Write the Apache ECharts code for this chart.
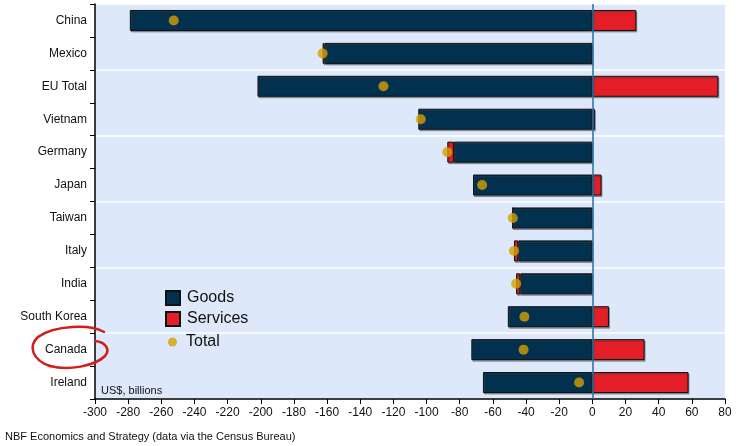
<!DOCTYPE html>
<html>
<head>
<meta charset="utf-8">
<script src="https://cdn.jsdelivr.net/npm/echarts@6/dist/echarts.min.js"></script>
<style>
  html, body { margin: 0; padding: 0; background: #ffffff; }
  #chart { width: 742px; height: 446px; }
</style>
</head>
<body>
<div id="chart"></div>
<script>
// US trade balance by partner, US$ billions
const countries = ['China', 'Mexico', 'EU Total', 'Vietnam', 'Germany', 'Japan',
                   'Taiwan', 'Italy', 'India', 'South Korea', 'Canada', 'Ireland'];
const goods    = [-279, -161.5, -202, -105, -83.5, -72, -48, -44.7, -43.5, -51, -73, -66];
const services = [26.5, -1.2, 76, 1.5, -4, 5.5, 0, -2.6, -2.5, 10, 31.5, 58];
const totals   = [-252.5, -162.7, -126, -103.5, -87.5, -66.5, -48, -47.3, -46, -41, -41.5, -8];
const xTicks   = { min: -300, max: 80, step: 20 };

const FONT = '"Liberation Sans", Arial, sans-serif';
const barStyle = (color) => ({
  color: color,
  borderColor: '#111111',
  borderWidth: 1,
  shadowColor: 'rgba(60,60,60,0.45)',
  shadowOffsetX: 1,
  shadowOffsetY: 1.5,
  shadowBlur: 0
});

// hand-drawn loop around the Canada label, as cubic segments
const loopSegments = [
  [104, 332, 90, 324, 55, 325, 38, 337],
  [38, 337, 28, 346, 32, 360, 50, 366],
  [50, 366, 68, 371, 95, 366, 105, 356],
  [105, 356, 111, 349, 105, 342, 95, 341]
];
const loopGraphics = loopSegments.map(s => ({
  type: 'bezierCurve', z: 100,
  shape: { x1: s[0], y1: s[1], cpx1: s[2], cpy1: s[3], cpx2: s[4], cpy2: s[5], x2: s[6], y2: s[7] },
  style: { fill: null, stroke: '#d21d1d', lineWidth: 2.5, lineCap: 'round' }
}));

const chart = echarts.init(document.getElementById('chart'), null, { renderer: 'canvas' });

chart.setOption({
  animation: false,
  textStyle: { fontFamily: FONT },
  grid: {
    left: 95, right: 17, top: 4, bottom: 47,
    show: true, backgroundColor: '#dde8fa', borderWidth: 0
  },
  xAxis: {
    type: 'value',
    min: xTicks.min, max: xTicks.max, interval: xTicks.step,
    axisLine: { show: true, onZero: false, lineStyle: { color: '#000', width: 1.5 } },
    axisTick: { show: true, length: 5, lineStyle: { color: '#000', width: 1 } },
    axisLabel: { color: '#111', fontSize: 12, margin: 8, fontFamily: FONT },
    splitLine: { show: false }
  },
  yAxis: {
    type: 'category',
    data: countries,
    inverse: true,
    axisLine: { show: true, onZero: false, lineStyle: { color: '#000', width: 1.5 } },
    axisTick: { show: true, length: 5, lineStyle: { color: '#000', width: 1 } },
    axisLabel: { color: '#111', fontSize: 12, margin: 8, fontFamily: FONT },
    splitLine: { show: true, interval: 1, lineStyle: { color: '#ffffff', width: 1.5 } }
  },
  legend: [
    {
      orient: 'vertical', left: 160, top: 285,
      itemWidth: 14, itemHeight: 14, itemGap: 5,
      data: [{ name: 'Goods', icon: 'rect' }, { name: 'Services', icon: 'rect' }],
      textStyle: { fontSize: 16, color: '#111', fontFamily: FONT, padding: [0, 0, 0, 2] }
    },
    {
      orient: 'vertical', left: 163, top: 329,
      itemWidth: 9, itemHeight: 9,
      data: [{ name: 'Total', icon: 'circle' }],
      textStyle: { fontSize: 16, color: '#111', fontFamily: FONT, padding: [0, 0, 0, 4] }
    }
  ],
  series: [
    {
      name: 'Goods', type: 'bar', stack: 'bal', barWidth: 21,
      data: goods, itemStyle: barStyle('#02314f'), z: 2
    },
    {
      name: 'Services', type: 'bar', stack: 'bal', barWidth: 21,
      data: services, itemStyle: barStyle('#e31e26'), z: 2,
      markLine: {
        silent: true, symbol: 'none', label: { show: false },
        lineStyle: { color: '#2a6f9e', width: 1.5, type: 'solid' },
        data: [{ xAxis: 0 }],
        z: 5
      }
    },
    {
      name: 'Total', type: 'scatter', symbol: 'circle', symbolSize: 10,
      data: totals, itemStyle: { color: '#d6a000' }, z: 6
    }
  ],
  graphic: [
    {
      type: 'text', left: 101, top: 385,
      style: { text: 'US$, billions', font: '11px ' + FONT, fill: '#111' }
    },
    {
      type: 'text', left: 5, top: 431,
      style: { text: 'NBF Economics and Strategy (data via the Census Bureau)', font: '11px ' + FONT, fill: '#111' }
    }
  ].concat(loopGraphics)
});
</script>
</body>
</html>
